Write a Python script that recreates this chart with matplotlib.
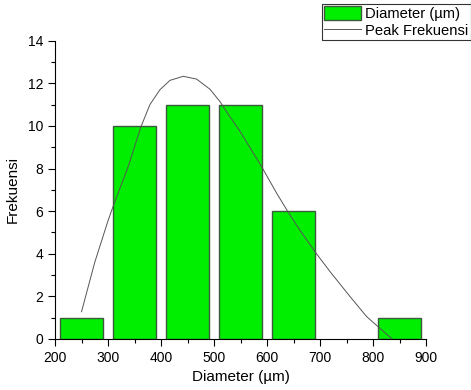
import matplotlib.pyplot as plt
from matplotlib.ticker import MultipleLocator

plt.rcParams['font.family'] = ['Liberation Sans', 'DejaVu Sans']

# histogram bins (centres, µm) and counts
bin_centers = [250, 350, 450, 550, 650, 850]
counts = [1, 10, 11, 11, 6, 1]
bin_width = 80

# peak curve
curve_x = [250, 275, 300, 310, 338, 362, 379, 398, 417, 442,
           467, 492.5, 511, 530, 549, 590, 618, 640, 662, 690.6,
           719, 757, 788, 813, 835]
curve_y = [1.28, 3.60, 5.55, 6.25, 8.08, 9.95, 11.0, 11.7, 12.14, 12.33,
           12.2, 11.72, 11.15, 10.43, 9.75, 8.08, 6.85, 5.95, 5.11, 4.09,
           3.16, 1.98, 1.05, 0.50, 0.03]

fig = plt.figure(figsize=(4.71, 3.9), dpi=100)
ax = fig.add_axes([0.1168, 0.1308, 0.7877, 0.7648])

bars = ax.bar(bin_centers, counts, width=bin_width, color='#00ee00',
              edgecolor='#3c5a3c', linewidth=1.0, label='Diameter (µm)')
line, = ax.plot(curve_x, curve_y, color='#555555', linewidth=0.7,
                label='Peak Frekuensi')

ax.set_xlim(200, 900)
ax.set_ylim(0, 14)
ax.xaxis.set_major_locator(MultipleLocator(100))
ax.xaxis.set_minor_locator(MultipleLocator(50))
ax.yaxis.set_major_locator(MultipleLocator(2))
ax.yaxis.set_minor_locator(MultipleLocator(1))
ax.tick_params(which='major', direction='out', length=5, width=0.8, labelsize=10)
ax.tick_params(which='minor', direction='out', length=3, width=0.8)

for side in ['top', 'right']:
    ax.spines[side].set_visible(False)

ax.set_xlabel('Diameter (µm)', fontsize=11)
ax.set_ylabel('Frekuensi', fontsize=11, labelpad=6)

leg = fig.legend(handles=[bars, line], loc='upper right',
                 bbox_to_anchor=(0.999, 0.99), fontsize=10.6, frameon=True,
                 fancybox=False, edgecolor='black', borderpad=0.15,
                 handlelength=2.5, handleheight=1.1, labelspacing=0.12,
                 borderaxespad=0.0, handletextpad=0.3)
leg.get_frame().set_linewidth(0.8)

fig.savefig('out.png', dpi=100)
